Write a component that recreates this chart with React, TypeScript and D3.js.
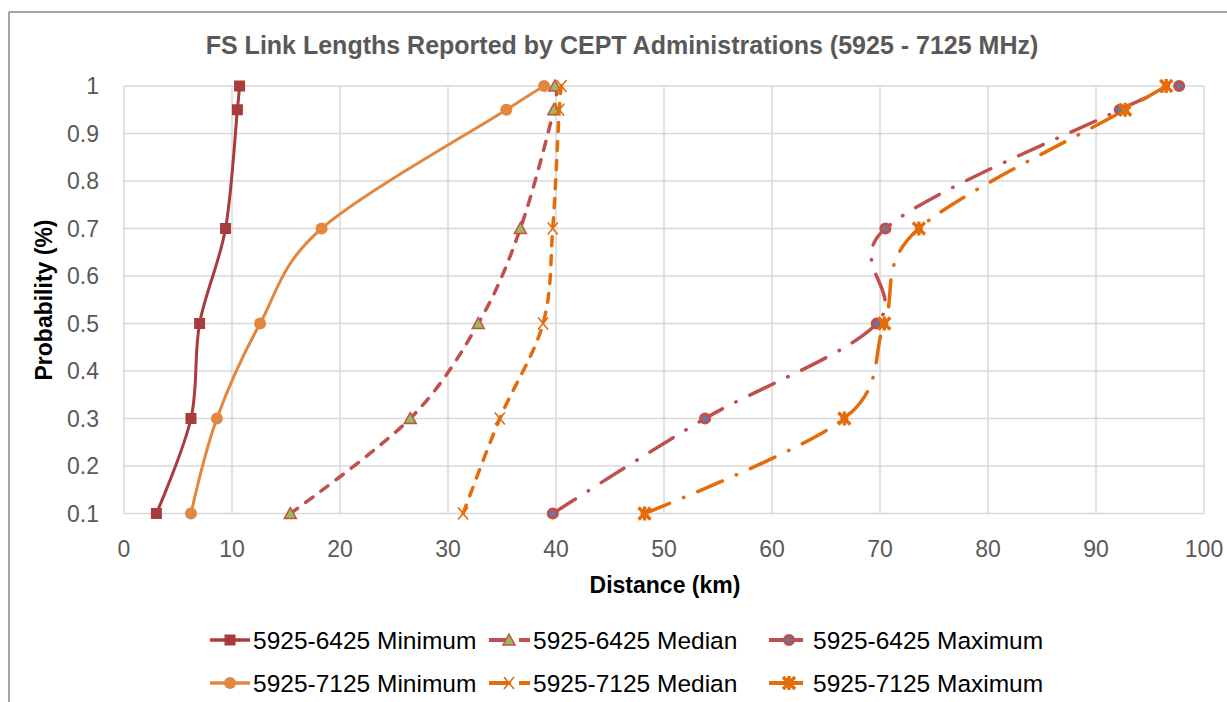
import React from "react";
import * as d3 from "d3";

const title = "FS Link Lengths Reported by CEPT Administrations (5925 - 7125 MHz)";
const xTitle = "Distance (km)";
const yTitle = "Probability (%)";

const probs = [0.1, 0.3, 0.5, 0.7, 0.95, 1];
const min6425 = [3.0, 6.2, 7.0, 9.4, 10.5, 10.7];
const med6425 = [15.4, 26.5, 32.8, 36.7, 39.8, 39.9];
const max6425 = [39.7, 53.8, 69.7, 70.5, 92.2, 97.7];
const min7125 = [6.2, 8.6, 12.6, 18.3, 35.4, 38.9];
const med7125 = [31.4, 34.8, 38.8, 39.7, 40.3, 40.5];
const max7125 = [48.2, 66.7, 70.4, 73.6, 92.7, 96.5];

const xTicks = [0, 10, 20, 30, 40, 50, 60, 70, 80, 90, 100];
const yTicks = [0.1, 0.2, 0.3, 0.4, 0.5, 0.6, 0.7, 0.8, 0.9, 1];

const seriesNames = [
  "5925-6425 Minimum",
  "5925-6425 Median",
  "5925-6425 Maximum",
  "5925-7125 Minimum",
  "5925-7125 Median",
  "5925-7125 Maximum",
];
const seriesValues = [min6425, med6425, max6425, min7125, med7125, max7125];

type Style = { color: string; dash: string; marker: string; width: number };
const styles: Style[] = [
  { color: "#A83B3B", dash: "", marker: "square", width: 3 },
  { color: "#C0504D", dash: "9 10", marker: "triangle", width: 3.5 },
  { color: "#C0504D", dash: "27 15 0.5 15", marker: "circleBlue", width: 3.5 },
  { color: "#E3873F", dash: "", marker: "circle", width: 3 },
  { color: "#E46C0A", dash: "9 10", marker: "x", width: 3.5 },
  { color: "#E46C0A", dash: "27 15 0.5 15", marker: "star", width: 3.5 },
];

const W = 1227;
const H = 702;
const plot = { left: 124, right: 1204, top: 86, bottom: 513.5 };
const FONT = "'Liberation Sans', Arial, sans-serif";

function Marker({ type, x, y, color }: { type: string; x: number; y: number; color: string }) {
  switch (type) {
    case "square":
      return <rect x={x - 5.5} y={y - 5.5} width={11} height={11} fill={color} />;
    case "triangle":
      return (
        <path
          d={`M${x},${y - 6} L${x + 6},${y + 5} L${x - 6},${y + 5} Z`}
          fill="#9BBB59"
          stroke={color}
          strokeWidth={1.5}
        />
      );
    case "circleBlue":
      return <circle cx={x} cy={y} r={4.3} fill="#4F81BD" stroke={color} strokeWidth={3.5} />;
    case "circle":
      return <circle cx={x} cy={y} r={6} fill={color} />;
    case "x":
      return (
        <path
          d={`M${x - 5},${y - 6} L${x + 5},${y + 6} M${x + 5},${y - 6} L${x - 5},${y + 6}`}
          stroke={color}
          strokeWidth={1.6}
          fill="none"
        />
      );
    case "star":
      return (
        <g stroke={color} strokeWidth={3.4} fill="none">
          <path d={`M${x - 6},${y - 6} L${x + 6},${y + 6} M${x + 6},${y - 6} L${x - 6},${y + 6} M${x},${y - 7} L${x},${y + 7}`} />
          <circle cx={x} cy={y} r={4} fill={color} stroke="none" />
        </g>
      );
    default:
      return null;
  }
}

export default function App() {
  const x = d3.scaleLinear().domain([0, 100]).range([plot.left, plot.right]);
  const y = d3.scaleLinear().domain([0.1, 1]).range([plot.bottom, plot.top]);
  const line = d3
    .line<[number, number]>()
    .x((d) => x(d[0]))
    .y((d) => y(d[1]))
    .curve(d3.curveCatmullRom.alpha(0));

  const legendCols = [
    { lx1: 210, lx2: 250, mx: 230, tx: 253 },
    { lx1: 489, lx2: 530, mx: 509, tx: 533 },
    { lx1: 769, lx2: 803, mx: 789, tx: 813 },
  ];
  const legendRows = [640, 683];

  return (
    <svg
      width={W}
      height={H}
      style={{ position: "absolute", left: 0, top: 0, background: "#fff" }}
      fontFamily={FONT}
    >
      <rect x={0} y={0} width={W} height={H} fill="#fff" />
      {/* chart frame */}
      <line x1={9} y1={12} x2={9} y2={H} stroke="#868686" strokeWidth={1.5} />
      <line x1={9} y1={12} x2={W} y2={12} stroke="#868686" strokeWidth={1.5} />

      {/* title */}
      <text x={622} y={54} textAnchor="middle" fontSize={25} fontWeight="bold" fill="#595959">
        {title}
      </text>

      {/* gridlines */}
      {xTicks.map((t) => (
        <line key={"gx" + t} x1={x(t)} x2={x(t)} y1={plot.top} y2={plot.bottom} stroke="#D9D9D9" strokeWidth={1.5} />
      ))}
      {yTicks.map((t) => (
        <line key={"gy" + t} x1={plot.left} x2={plot.right} y1={y(t)} y2={y(t)} stroke="#D9D9D9" strokeWidth={1.5} />
      ))}

      {/* tick labels */}
      {xTicks.map((t) => (
        <text key={"tx" + t} x={x(t)} y={557} textAnchor="middle" fontSize={23} fill="#595959">
          {t}
        </text>
      ))}
      {yTicks.map((t) => (
        <text key={"ty" + t} x={99} y={y(t) + 8} textAnchor="end" fontSize={23} fill="#595959">
          {d3.format("~g")(+t.toFixed(1))}
        </text>
      ))}

      {/* axis titles */}
      <text x={665} y={593} textAnchor="middle" fontSize={23} fontWeight="bold" fill="#000">
        {xTitle}
      </text>
      <text
        transform={`translate(52,300) rotate(-90)`}
        textAnchor="middle"
        fontSize={23}
        fontWeight="bold"
        fill="#000"
      >
        {yTitle}
      </text>

      {/* series */}
      {seriesValues.map((vals, i) => {
        const pts: [number, number][] = vals.map((v, j) => [v, probs[j]]);
        const s = styles[i];
        return (
          <g key={"s" + i}>
            <path
              d={line(pts) || ""}
              fill="none"
              stroke={s.color}
              strokeWidth={s.width}
              strokeDasharray={s.dash || undefined}
              strokeLinecap="round"
            />
            {pts.map((p, j) => (
              <Marker key={j} type={s.marker} x={x(p[0])} y={y(p[1])} color={s.color} />
            ))}
          </g>
        );
      })}

      {/* legend */}
      {seriesNames.map((name, i) => {
        const col = legendCols[i % 3];
        const ry = legendRows[Math.floor(i / 3)];
        const s = styles[i];
        return (
          <g key={"l" + i}>
            <line
              x1={col.lx1}
              x2={col.lx2}
              y1={ry}
              y2={ry}
              stroke={s.color}
              strokeWidth={s.width + 0.5}
              strokeDasharray={s.dash ? (s.dash.startsWith("9") ? "22 8 12 8" : undefined) : undefined}
            />
            <Marker type={s.marker} x={col.mx} y={ry} color={s.color} />
            <text x={col.tx} y={ry + 8.5} fontSize={24.5} fill="#000">
              {name}
            </text>
          </g>
        );
      })}
    </svg>
  );
}
